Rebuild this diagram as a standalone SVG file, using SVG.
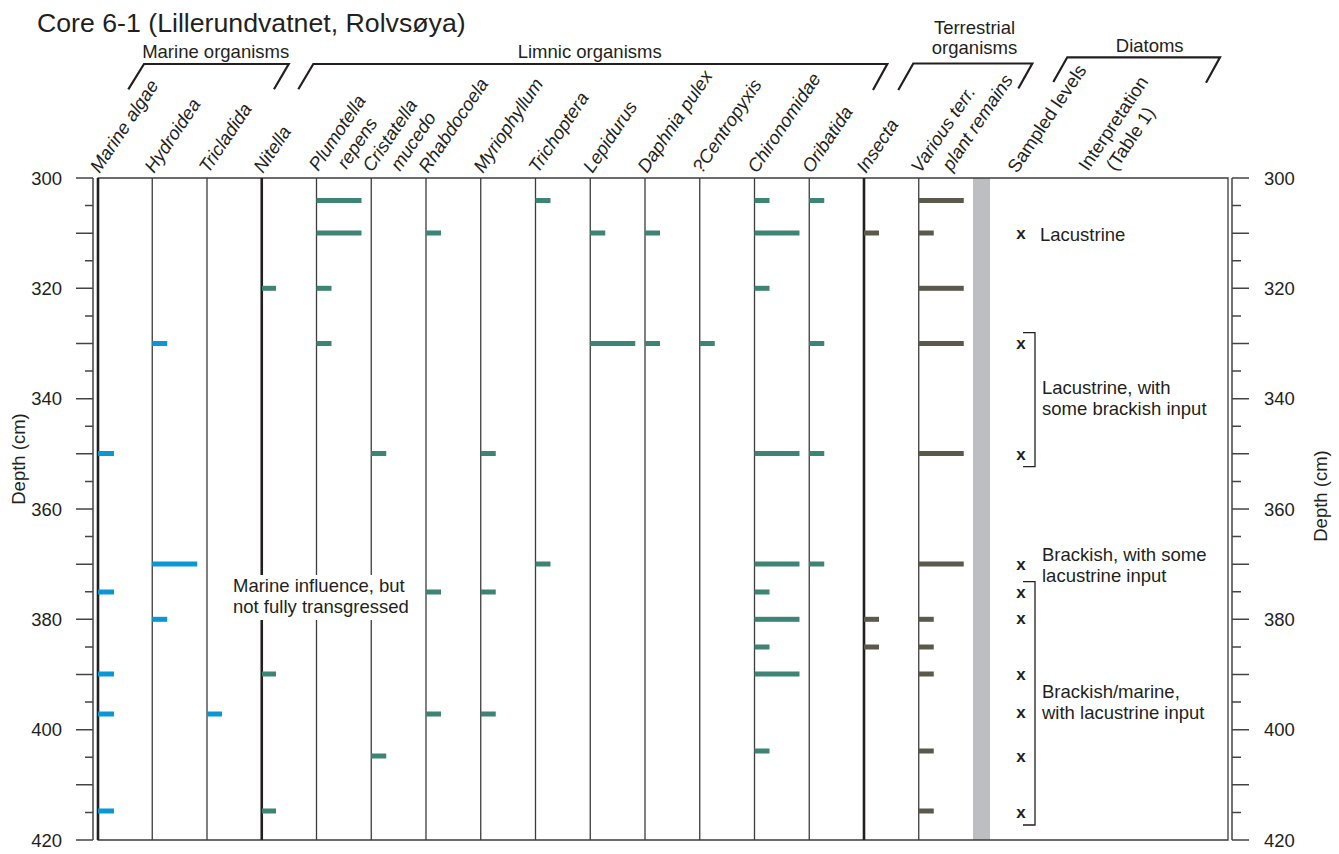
<svg xmlns="http://www.w3.org/2000/svg" width="1339" height="854" viewBox="0 0 1339 854">
<style>
.t{font-family:"Liberation Sans",Arial,Helvetica,sans-serif;font-size:18.5px;fill:#231f20}
.h{font-style:italic}
.ti{font-size:26.7px}
.ln{stroke:#3c3c3c;stroke-width:1.3;fill:none}
.tk{stroke:#231f20;stroke-width:2.6;fill:none}
.ax{stroke:#444;stroke-width:1.5;fill:none}
.br{stroke:#231f20;stroke-width:2.2;fill:none;stroke-linejoin:miter}
.bk{stroke:#231f20;stroke-width:1.3;fill:none}
.b{fill:#0b96d5}
.g{fill:#3d8474}
.o{fill:#5a594b}
.xm{font-family:"Liberation Sans",Arial,sans-serif;font-size:17px;font-weight:bold;fill:#231f20;text-anchor:middle}
</style>
<rect width="1339" height="854" fill="#fff"/>
<text class="t ti" x="37" y="32">Core 6-1 (Lillerundvatnet, Rolvsøya)</text>

<g id="group-headers">
<text class="t" x="215.7" y="58" text-anchor="middle">Marine organisms</text>
<text class="t" x="589.7" y="57.5" text-anchor="middle">Limnic organisms</text>
<text class="t" x="974.5" y="33.5" text-anchor="middle">Terrestrial</text>
<text class="t" x="974.5" y="54" text-anchor="middle">organisms</text>
<text class="t" x="1149.7" y="51.5" text-anchor="middle">Diatoms</text>
</g>
<g id="connectors">
<path class="br" d="M128.3,89.3 L144,64 L288.7,64 L274,89.3"/>
<path class="br" d="M298.3,89.3 L313.3,64 L887.3,64 L873,90"/>
<path class="br" d="M898.3,90 L913.3,63.5 L1032.3,63.5 L1018.3,88.5"/>
<path class="br" d="M1053.3,82 L1067.3,57.3 L1220,57.3 L1206,82.7"/>
<path class="bk" d="M1023,332.7 H1035 V466.7 H1023"/>
<path class="bk" d="M1023,581.7 H1035 V825 H1023"/>
</g>

<rect id="core-bar" x="973" y="178" width="17" height="662" fill="#bdbec2"/>

<g id="frame">
<path class="ln" d="M97.5,178 H1228 V840 H97.5"/>
<path class="ln" d="M152.25,178V840 M207,178V840 M316.5,178V575 M316.5,620V840 M371.25,178V575 M371.25,620V840 M426,178V840 M480.75,178V840 M535.5,178V840 M590.25,178V840 M645,178V840 M699.75,178V840 M754.5,178V840 M809.25,178V840 M918.75,178V840"/>
<path class="tk" d="M98,178V840 M261.75,178V575 M261.75,620V840 M864,178V840"/>
</g>

<g id="left-axis">
<path class="ax" d="M93,178V840 M76,178H93 M85,205.6H93 M76,233.2H93 M85,260.7H93 M76,288.3H93 M85,315.9H93 M76,343.5H93 M85,371.1H93 M76,398.7H93 M85,426.2H93 M76,453.8H93 M85,481.4H93 M76,509H93 M85,536.6H93 M76,564.2H93 M85,591.8H93 M76,619.3H93 M85,646.9H93 M76,674.5H93 M85,702.1H93 M76,729.7H93 M85,757.3H93 M76,784.8H93 M85,812.4H93 M76,840H93"/>
<text class="t" x="62" y="184.5" text-anchor="end">300</text>
<text class="t" x="62" y="294.8" text-anchor="end">320</text>
<text class="t" x="62" y="405.2" text-anchor="end">340</text>
<text class="t" x="62" y="515.5" text-anchor="end">360</text>
<text class="t" x="62" y="625.8" text-anchor="end">380</text>
<text class="t" x="62" y="736.2" text-anchor="end">400</text>
<text class="t" x="62" y="846.5" text-anchor="end">420</text>
<text class="t" x="25" y="459" text-anchor="middle" transform="rotate(-90 25 459)">Depth (cm)</text>
</g>

<g id="right-axis">
<path class="ax" d="M1232,178V840 M1232,178H1249 M1232,205.6H1241 M1232,233.2H1249 M1232,260.7H1241 M1232,288.3H1249 M1232,315.9H1241 M1232,343.5H1249 M1232,371.1H1241 M1232,398.7H1249 M1232,426.2H1241 M1232,453.8H1249 M1232,481.4H1241 M1232,509H1249 M1232,536.6H1241 M1232,564.2H1249 M1232,591.8H1241 M1232,619.3H1249 M1232,646.9H1241 M1232,674.5H1249 M1232,702.1H1241 M1232,729.7H1249 M1232,757.3H1241 M1232,784.8H1249 M1232,812.4H1241 M1232,840H1249"/>
<text class="t" x="1264" y="184.5">300</text>
<text class="t" x="1264" y="294.8">320</text>
<text class="t" x="1264" y="405.2">340</text>
<text class="t" x="1264" y="515.5">360</text>
<text class="t" x="1264" y="625.8">380</text>
<text class="t" x="1264" y="736.2">400</text>
<text class="t" x="1264" y="846.5">420</text>
<text class="t" x="1327" y="496" text-anchor="middle" transform="rotate(-90 1327 496)">Depth (cm)</text>
</g>

<g id="col-marine-algae">
<text class="t h" x="99.5" y="174" transform="rotate(-56 99.5 174)">Marine algae</text>
<rect class="b" x="98" y="451" width="16" height="5"/>
<rect class="b" x="98" y="589.5" width="16" height="5"/>
<rect class="b" x="98" y="671.5" width="16" height="5"/>
<rect class="b" x="98" y="711.5" width="16" height="5"/>
<rect class="b" x="98" y="808.5" width="16" height="5"/>
</g>
<g id="col-hydroidea">
<text class="t h" x="154" y="174" transform="rotate(-56 154 174)">Hydroidea</text>
<rect class="b" x="152.25" y="341" width="15" height="5"/>
<rect class="b" x="152.25" y="561.5" width="45" height="5"/>
<rect class="b" x="152.25" y="616.8" width="15" height="5"/>
</g>
<g id="col-tricladida">
<text class="t h" x="208.5" y="174" transform="rotate(-56 208.5 174)">Tricladida</text>
<rect class="b" x="207" y="711.5" width="15" height="5"/>
</g>
<g id="col-nitella">
<text class="t h" x="263" y="174" transform="rotate(-56 263 174)">Nitella</text>
<rect class="g" x="262" y="285.8" width="14" height="5"/>
<rect class="g" x="262" y="671.5" width="14" height="5"/>
<rect class="g" x="262" y="808.5" width="14" height="5"/>
</g>
<g id="col-plumotella">
<text class="t h" x="318.3" y="172" transform="rotate(-56 318.3 172)">Plumotella</text>
<text class="t h" x="346.5" y="170" transform="rotate(-56 346.5 170)">repens</text>
<rect class="g" x="316.5" y="198" width="45" height="5"/>
<rect class="g" x="316.5" y="230.5" width="45" height="5"/>
<rect class="g" x="316.5" y="285.8" width="15" height="5"/>
<rect class="g" x="316.5" y="341" width="15" height="5"/>
</g>
<g id="col-cristatella">
<text class="t h" x="372" y="173" transform="rotate(-56 372 173)">Cristatella</text>
<text class="t h" x="400" y="172" transform="rotate(-56 400 172)">mucedo</text>
<rect class="g" x="371.25" y="451" width="15" height="5"/>
<rect class="g" x="371.25" y="753.5" width="15" height="5"/>
</g>
<g id="col-rhabdocoela">
<text class="t h" x="428" y="174" transform="rotate(-56 428 174)">Rhabdocoela</text>
<rect class="g" x="426" y="230.5" width="15" height="5"/>
<rect class="g" x="426" y="589.5" width="15" height="5"/>
<rect class="g" x="426" y="711.5" width="15" height="5"/>
</g>
<g id="col-myriophyllum">
<text class="t h" x="483" y="174" transform="rotate(-56 483 174)">Myriophyllum</text>
<rect class="g" x="480.75" y="451" width="15" height="5"/>
<rect class="g" x="480.75" y="589.5" width="15" height="5"/>
<rect class="g" x="480.75" y="711.5" width="15" height="5"/>
</g>
<g id="col-trichoptera">
<text class="t h" x="538" y="174" transform="rotate(-56 538 174)">Trichoptera</text>
<rect class="g" x="535.5" y="198" width="15" height="5"/>
<rect class="g" x="535.5" y="561.5" width="15" height="5"/>
</g>
<g id="col-lepidurus">
<text class="t h" x="592.5" y="174" transform="rotate(-56 592.5 174)">Lepidurus</text>
<rect class="g" x="590.25" y="230.5" width="15" height="5"/>
<rect class="g" x="590.25" y="341" width="45" height="5"/>
</g>
<g id="col-daphnia">
<text class="t h" x="647" y="174" transform="rotate(-56 647 174)">Daphnia pulex</text>
<rect class="g" x="645" y="230.5" width="15" height="5"/>
<rect class="g" x="645" y="341" width="15" height="5"/>
</g>
<g id="col-centropyxis">
<text class="t h" x="702" y="174" transform="rotate(-56 702 174)">?Centropyxis</text>
<rect class="g" x="699.75" y="341" width="15" height="5"/>
</g>
<g id="col-chironomidae">
<text class="t h" x="757" y="174" transform="rotate(-56 757 174)">Chironomidae</text>
<rect class="g" x="754.5" y="198" width="15" height="5"/>
<rect class="g" x="754.5" y="230.5" width="45" height="5"/>
<rect class="g" x="754.5" y="285.8" width="15" height="5"/>
<rect class="g" x="754.5" y="451" width="45" height="5"/>
<rect class="g" x="754.5" y="561.5" width="45" height="5"/>
<rect class="g" x="754.5" y="589.5" width="15" height="5"/>
<rect class="g" x="754.5" y="616.8" width="45" height="5"/>
<rect class="g" x="754.5" y="644.5" width="15" height="5"/>
<rect class="g" x="754.5" y="671.5" width="45" height="5"/>
<rect class="g" x="754.5" y="748.5" width="15" height="5"/>
</g>
<g id="col-oribatida">
<text class="t h" x="811.5" y="174" transform="rotate(-56 811.5 174)">Oribatida</text>
<rect class="g" x="809.25" y="198" width="15" height="5"/>
<rect class="g" x="809.25" y="341" width="15" height="5"/>
<rect class="g" x="809.25" y="451" width="15" height="5"/>
<rect class="g" x="809.25" y="561.5" width="15" height="5"/>
</g>
<g id="col-insecta">
<text class="t h" x="866" y="174" transform="rotate(-56 866 174)">Insecta</text>
<rect class="o" x="864" y="230.5" width="15" height="5"/>
<rect class="o" x="864" y="616.8" width="15" height="5"/>
<rect class="o" x="864" y="644.5" width="15" height="5"/>
</g>
<g id="col-various-terr">
<text class="t h" x="920.5" y="174" transform="rotate(-56 920.5 174)">Various terr.</text>
<text class="t h" x="951.5" y="172" transform="rotate(-56 951.5 172)">plant remains</text>
<rect class="o" x="918.75" y="198" width="45" height="5"/>
<rect class="o" x="918.75" y="230.5" width="15" height="5"/>
<rect class="o" x="918.75" y="285.8" width="45" height="5"/>
<rect class="o" x="918.75" y="341" width="45" height="5"/>
<rect class="o" x="918.75" y="451" width="45" height="5"/>
<rect class="o" x="918.75" y="561.5" width="45" height="5"/>
<rect class="o" x="918.75" y="616.8" width="15" height="5"/>
<rect class="o" x="918.75" y="644.5" width="15" height="5"/>
<rect class="o" x="918.75" y="671.5" width="15" height="5"/>
<rect class="o" x="918.75" y="748.5" width="15" height="5"/>
<rect class="o" x="918.75" y="808.5" width="15" height="5"/>
</g>
<g id="col-sampled-levels">
<text class="t" x="1017" y="174" transform="rotate(-56 1017 174)">Sampled levels</text>
<text class="xm" x="1021" y="239">x</text>
<text class="xm" x="1021" y="349">x</text>
<text class="xm" x="1021" y="460">x</text>
<text class="xm" x="1021" y="570">x</text>
<text class="xm" x="1021" y="598">x</text>
<text class="xm" x="1021" y="624">x</text>
<text class="xm" x="1021" y="680">x</text>
<text class="xm" x="1021" y="718">x</text>
<text class="xm" x="1021" y="762">x</text>
<text class="xm" x="1021" y="818">x</text>
</g>
<g id="col-interpretation">
<text class="t" x="1088" y="172" transform="rotate(-56 1088 172)">Interpretation</text>
<text class="t" x="1115.5" y="172" transform="rotate(-56 1115.5 172)">(Table 1)</text>
<text class="t" x="1040" y="241">Lacustrine</text>
<text class="t" x="1042" y="394">Lacustrine, with</text>
<text class="t" x="1042" y="415">some brackish input</text>
<text class="t" x="1042" y="560.5">Brackish, with some</text>
<text class="t" x="1042" y="581.5">lacustrine input</text>
<text class="t" x="1042" y="698">Brackish/marine,</text>
<text class="t" x="1042" y="719">with lacustrine input</text>
</g>
<g id="note-marine-influence">
<text class="t" x="233" y="592">Marine influence, but</text>
<text class="t" x="233" y="613">not fully transgressed</text>
</g>
</svg>
